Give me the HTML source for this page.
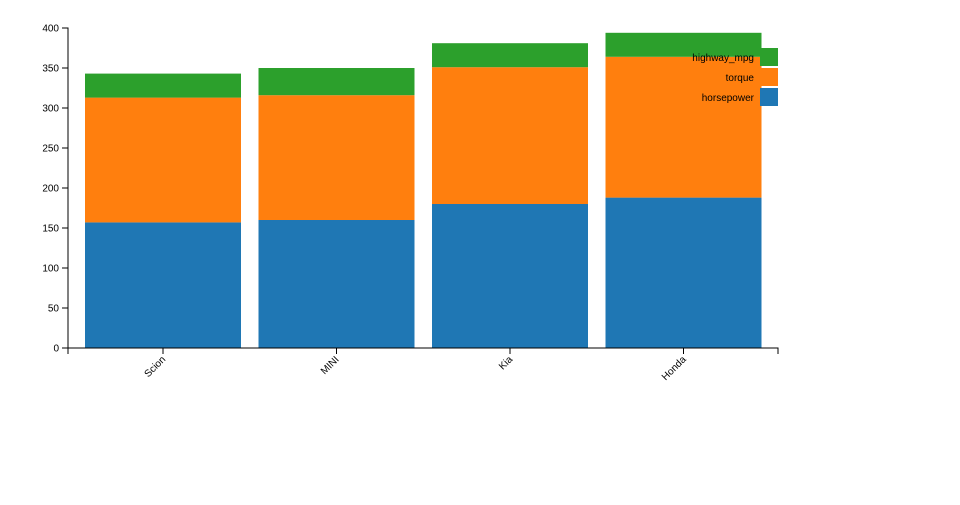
<!DOCTYPE html>
<html><head><meta charset="utf-8"><style>
body{margin:0;background:#fff;}
svg text{font-family:"Liberation Sans",sans-serif;font-size:10px;fill:#000;}
</style></head><body>
<svg id="chart" width="960" height="500"></svg>
<script>
const categories = ["Scion","MINI","Kia","Honda"];
const seriesNames = ["horsepower","torque","highway_mpg"];
const horsepower = [157, 160, 180, 188];
const torque = [156, 156, 171, 176];
const highwayMpg = [30, 34, 30, 30];
const yTicks = [0,50,100,150,200,250,300,350,400];
const colors = ["#1f77b4","#ff7f0e","#2ca02c"];
const series = [horsepower, torque, highwayMpg];

const NS="http://www.w3.org/2000/svg";
const svg=document.getElementById("chart");
const x0=68,x1=778,yBase=348,yTop=28,yMax=400;
const y=v=>yBase-(v/yMax)*(yBase-yTop);
const bandStart=85, step=173.5, bw=156;
const bx=i=>bandStart+step*i;
function mk(t,a){const e=document.createElementNS(NS,t);for(const k in a)e.setAttribute(k,a[k]);svg.appendChild(e);return e;}

categories.forEach((c,i)=>{
  let acc=0;
  series.forEach((s,j)=>{
    const r=mk("rect",{x:bx(i),y:y(acc+s[i]),width:bw,height:y(acc)-y(acc+s[i]),fill:colors[j]});
    
    
    acc+=s[i];
  });
});

const ya=mk("path",{d:`M${x0-6},${yTop}H${x0}V${yBase}H${x0-6}`,fill:"none",stroke:"#000"});


yTicks.forEach(t=>{
  mk("line",{x1:x0-6,x2:x0,y1:y(t),y2:y(t),stroke:"#000"});
  const tx=mk("text",{x:x0-9,y:y(t)+3.5,"text-anchor":"end"});tx.textContent=t;
  
  
});
const xa=mk("path",{d:`M${x0},${yBase+6}V${yBase}H${x1}V${yBase+6}`,fill:"none",stroke:"#000"});


categories.forEach((c,i)=>{
  const cx=bx(i)+bw/2;
  mk("line",{x1:cx,x2:cx,y1:yBase,y2:yBase+6,stroke:"#000"});
  const tx=mk("text",{x:0,y:0,"text-anchor":"end",transform:`translate(${cx+3},${yBase+12}) rotate(-45)`});
  tx.textContent=c;
  
  
});
[2,1,0].forEach((j,k)=>{
  const ly=48+k*20;
  const r=mk("rect",{x:760,y:ly,width:18,height:18,fill:colors[j]});
  
  
  const t=mk("text",{x:754,y:ly+13,"text-anchor":"end"});t.textContent=seriesNames[j];
  
  
});
</script>
</body></html>
